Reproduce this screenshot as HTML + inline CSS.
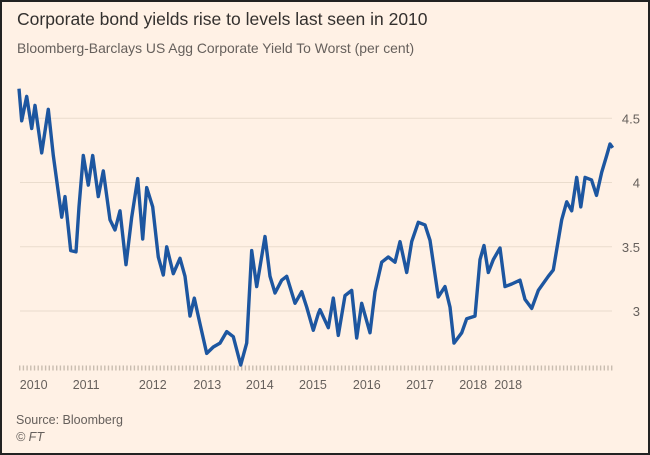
<!DOCTYPE html>
<html><head><meta charset="utf-8"><style>
html,body{margin:0;padding:0;}
body{width:650px;height:455px;overflow:hidden;background:#fff;}
#wrap{position:absolute;left:0;top:0;width:646px;height:451px;border:2px solid #222;background:#fff1e5;font-family:"Liberation Sans",sans-serif;}
.t{position:absolute;left:15px;top:7px;font-size:17.5px;color:#33302e;white-space:nowrap;}
.s{position:absolute;left:15px;top:38px;font-size:13.9px;color:#66605c;white-space:nowrap;}
.src{position:absolute;left:14px;top:411px;font-size:12.5px;color:#66605c;}
.ft{position:absolute;left:14px;top:428px;font-size:12.5px;color:#66605c;font-style:italic;}
svg{position:absolute;left:0;top:0;}
</style></head><body>
<div id="wrap">
<div class="t">Corporate bond yields rise to levels last seen in 2010</div>
<div class="s">Bloomberg-Barclays US Agg Corporate Yield To Worst (per cent)</div>
<svg id="chart" width="646" height="451"></svg>
<div class="src">Source: Bloomberg</div>
<div class="ft">© FT</div>
</div>
<script>
const yTicks = [3, 3.5, 4, 4.5];
const yTickLabels = ["3", "3.5", "4", "4.5"];
const xTickLabels = ["2010","2011","2012","2013","2014","2015","2016","2017","2018","2018"];
const xTickDates = [2010.27,2011.05,2012.04,2012.85,2013.63,2014.42,2015.22,2016.01,2016.8,2017.32];
const dates = [2010.052,2010.092,2010.166,2010.241,2010.290,2010.389,2010.487,2010.562,2010.686,2010.736,2010.820,2010.899,2010.944,2011.007,2011.082,2011.147,2011.230,2011.305,2011.404,2011.478,2011.553,2011.642,2011.727,2011.816,2011.890,2011.949,2012.039,2012.122,2012.196,2012.247,2012.345,2012.444,2012.519,2012.593,2012.657,2012.741,2012.841,2012.939,2013.039,2013.138,2013.236,2013.346,2013.435,2013.510,2013.584,2013.707,2013.782,2013.856,2013.955,2014.030,2014.153,2014.253,2014.327,2014.425,2014.499,2014.525,2014.648,2014.722,2014.796,2014.896,2014.996,2015.070,2015.144,2015.268,2015.342,2015.441,2015.539,2015.639,2015.713,2015.813,2015.887,2015.985,2016.085,2016.159,2016.282,2016.382,2016.456,2016.516,2016.630,2016.704,2016.828,2016.902,2016.961,2017.025,2017.100,2017.199,2017.273,2017.373,2017.496,2017.571,2017.670,2017.768,2017.917,2017.991,2018.116,2018.190,2018.265,2018.339,2018.399,2018.463,2018.559,2018.633,2018.710,2018.784,2018.833,2018.873];
const yields = [4.73,4.48,4.67,4.42,4.60,4.23,4.57,4.21,3.73,3.89,3.47,3.46,3.81,4.21,3.98,4.21,3.89,4.09,3.71,3.63,3.78,3.36,3.73,4.03,3.56,3.96,3.81,3.42,3.28,3.50,3.29,3.41,3.27,2.96,3.10,2.90,2.67,2.72,2.75,2.84,2.80,2.58,2.75,3.47,3.19,3.58,3.27,3.14,3.24,3.27,3.06,3.15,3.03,2.85,2.98,3.01,2.87,3.10,2.81,3.12,3.16,2.79,3.06,2.83,3.15,3.38,3.42,3.38,3.54,3.30,3.54,3.69,3.67,3.55,3.11,3.19,3.03,2.75,2.83,2.94,2.96,3.40,3.51,3.30,3.40,3.49,3.19,3.21,3.24,3.09,3.02,3.16,3.27,3.32,3.71,3.85,3.78,4.04,3.81,4.04,4.02,3.90,4.08,4.21,4.30,4.27];

const NS = "http://www.w3.org/2000/svg";
const svg = document.getElementById("chart");
function xs(t){ return 13.5 + (t - 2010) * 67.3; }
function ys(v){ return 309 - (v - 3) * 128.5; }
function mk(tag, attrs){ const e = document.createElementNS(NS, tag); for (const k in attrs) e.setAttribute(k, attrs[k]); svg.appendChild(e); return e; }

yTicks.forEach((v, i) => {
  const g = mk("line", {x1: 18, x2: 610, y1: ys(v), y2: ys(v), stroke: "#eadccd", "stroke-width": 1});
  
  
  const t = mk("text", {x: 638, y: ys(v) + 5, "text-anchor": "end", "font-size": 13, fill: "#66605c", "font-family": "Liberation Sans, sans-serif"});
  t.textContent = yTickLabels[i];
  
  
});

const ax = mk("line", {x1: 17, x2: 611, y1: 366, y2: 366, stroke: "#c9bdb0", "stroke-width": 5, "stroke-dasharray": "1.4 2.3"});



xTickLabels.forEach((lab, i) => {
  const t = mk("text", {x: xs(xTickDates[i]), y: 387, "text-anchor": "middle", "font-size": 12.5, fill: "#66605c", "font-family": "Liberation Sans, sans-serif"});
  t.textContent = lab;
  
  
});

const pts = dates.map((d, i) => xs(d).toFixed(1) + "," + ys(yields[i]).toFixed(1)).join(" ");
const line = mk("polyline", {points: pts, fill: "none", stroke: "#1d56a0", "stroke-width": 3.4, "stroke-linejoin": "round"});


</script>
</body></html>
